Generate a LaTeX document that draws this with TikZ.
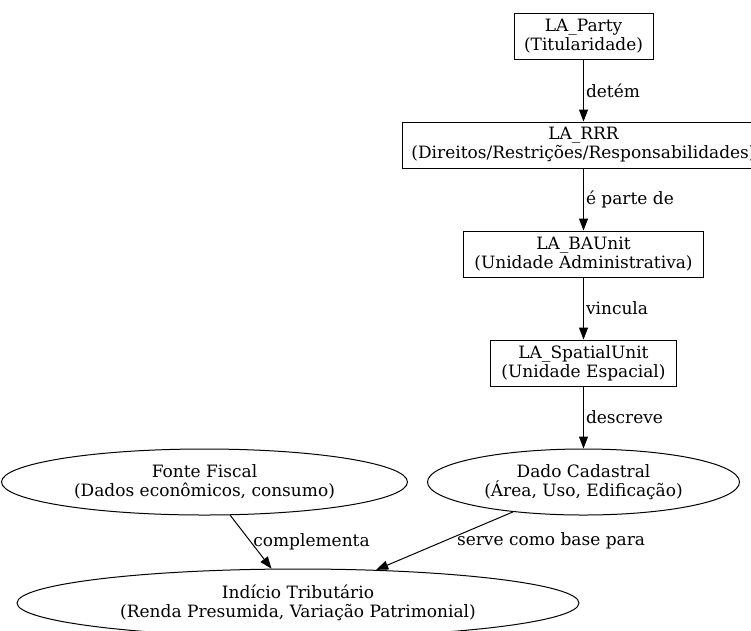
\documentclass[tikz,border=0pt]{standalone}
\usepackage{fontspec}
\setmainfont{DejaVu Serif}
\usetikzlibrary{arrows.meta,positioning,shapes.geometric}
\tikzset{
  ldbox/.style={draw, line width=1pt, rectangle, align=center, inner sep=0pt, minimum height=46pt},
  ldell/.style={draw, line width=1pt, ellipse, align=center, inner sep=0pt},
  ldarr/.style={-{Triangle[length=12pt,width=9pt]}, line width=1pt},
  ldlab/.style={right, inner sep=2pt}
}

\begin{document}
\begin{tikzpicture}[x=1pt, y=-1pt, font=\fontsize{17}{19}\selectfont, node distance=62pt]
  \useasboundingbox (0,0) rectangle (751,630);
  % LADM chain
  \node[ldbox, minimum width=139pt] (party) at (583.5,36) {LA\_Party\\(Titularidade)};
  \node[ldbox, minimum width=362pt, below=of party] (rrr) {LA\_RRR\\(Direitos/Restrições/Responsabilidades)};
  \node[ldbox, minimum width=240pt, below=of rrr] (baunit) {LA\_BAUnit\\(Unidade Administrativa)};
  \node[ldbox, minimum width=186pt, below=of baunit] (spatial) {LA\_SpatialUnit\\(Unidade Espacial)};
  \node[ldell, minimum width=312pt, minimum height=66pt, below=of spatial] (cadastral) {Dado Cadastral\\(Área, Uso, Edificação)};
  \node[ldell, minimum width=406pt, minimum height=66pt, left=19pt of cadastral] (fiscal) {Fonte Fiscal\\(Dados econômicos, consumo)};
  \node[ldell, minimum width=562pt, minimum height=68pt] (indicio) at (298,603) {Indício Tributário\\(Renda Presumida, Variação Patrimonial)};

  \draw[ldarr] (party) -- node[ldlab] {detém} (rrr);
  \draw[ldarr] (rrr) -- node[ldlab] {é parte de} (baunit);
  \draw[ldarr] (baunit) -- node[ldlab] {vincula} (spatial);
  \draw[ldarr] (spatial) -- node[ldlab] {descreve} (cadastral);
  \draw[ldarr] (fiscal) -- node[ldlab] {complementa} (indicio);
  \draw[ldarr] (cadastral) -- node[ldlab, xshift=10pt] {serve como base para} (indicio);
\end{tikzpicture}
\end{document}
